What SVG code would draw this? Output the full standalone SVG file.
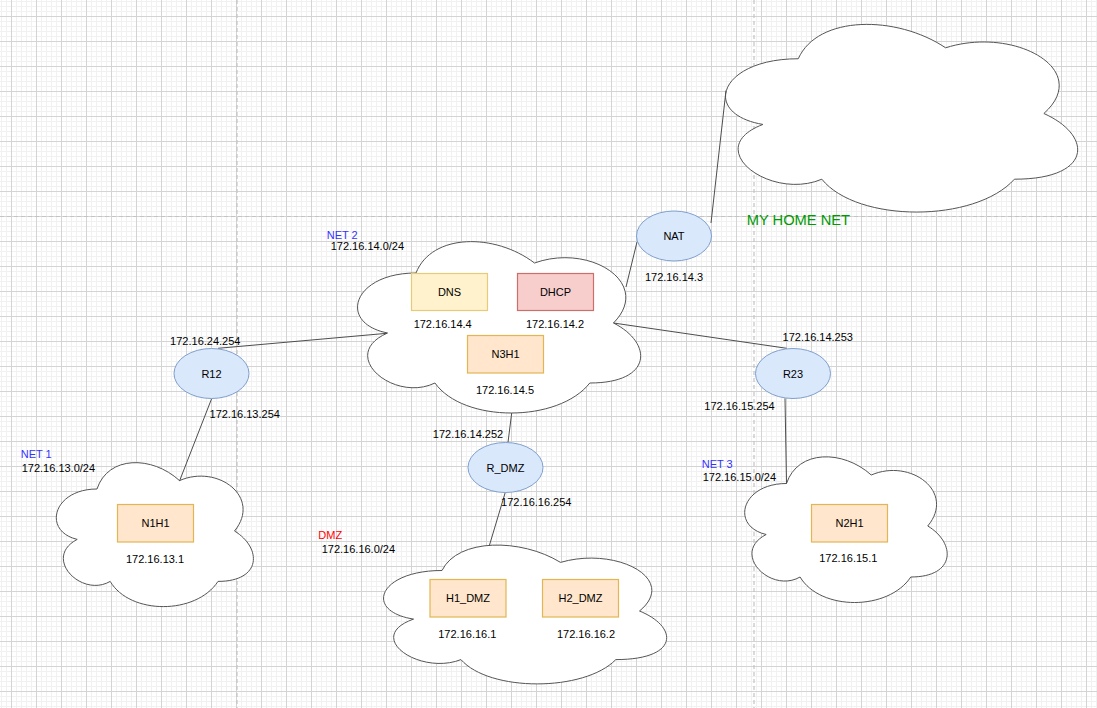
<svg xmlns="http://www.w3.org/2000/svg" width="1097" height="708" viewBox="0 0 1097 708">
<style>
text{font-family:"Liberation Sans",Arial,Helvetica,sans-serif;font-size:11px;fill:#000}
.c{text-anchor:middle}
.cloud{fill:#fff;stroke:#555;stroke-width:1}
.router{fill:#dae8fc;stroke:#7f9fcc;stroke-width:1}
.host{fill:#ffe6cc;stroke:#e2b652;stroke-width:1.2}
.dns{fill:#fff2cc;stroke:#e6cb7a;stroke-width:1.2}
.dhcp{fill:#f8cecc;stroke:#c9706c;stroke-width:1.2}
.net{fill:#3333ff}
.wire{stroke:#4d4d4d;stroke-width:1;fill:none}
.dash{stroke:#c4c4c4;stroke-width:1.2;stroke-dasharray:4 3}
</style>
<defs>
<pattern id="grid" patternUnits="userSpaceOnUse" x="11" y="16" width="25" height="25">
<path d="M5.5,0V25M10.5,0V25M15.5,0V25M20.5,0V25M0,5.5H25M0,10.5H25M0,15.5H25M0,20.5H25" stroke="#f1f1f1" stroke-width="1" fill="none"/>
<path d="M0.5,0V25M0,0.5H25" stroke="#d4d4d4" stroke-width="1" fill="none"/>
</pattern>
</defs>
<rect width="1097" height="708" fill="#fff"/>
<rect width="1097" height="708" fill="url(#grid)"/>
<g id="guides">
<line class="dash" x1="237" y1="0" x2="237" y2="708"/>
<line class="dash" x1="754" y1="0" x2="754" y2="708"/>
<line class="dash" x1="0" y1="216.5" x2="1097" y2="216.5"/>
</g>
<g id="cloud-home">
<path class="cloud" d="M798.25,58.75 C719.65,58.75 700,113.5 762.88,124.45 C700,148.54 770.74,201.1 821.83,179.2 C857.2,223 975.1,223 1014.4,179.2 C1093,179.2 1093,135.4 1043.875,113.5 C1093,69.7 1014.4,25.9 945.625,47.8 C896.5,14.95 817.9,14.95 798.25,58.75 Z"/>
<text x="746.7" y="224.6" style="font-size:14.7px;fill:#009900">MY HOME NET</text>
</g>
<g id="cloud-net2">
<path class="cloud" d="M416,273 C352.8,273 337,323 387.56,333 C337,355 393.88,403 434.96,383 C463.4,423 558.2,423 589.8,383 C653,383 653,343 613.5,323 C653,283 589.8,243 534.5,263 C495,233 431.8,233 416,273 Z"/>
<text class="net" x="326.7" y="239">NET 2</text>
<text x="330.7" y="250">172.16.14.0/24</text>
</g>
<g id="cloud-net1">
<path class="cloud" d="M97,489 C53,489 42,531 77.2,539.4 C42,557.88 81.6,598.2 110.2,581.4 C130,615 196,615 218,581.4 C262,581.4 262,547.8 234.5,531 C262,497.4 218,463.8 179.5,480.6 C152,455.4 108,455.4 97,489 Z"/>
<text class="net" x="20.7" y="458">NET 1</text>
<text x="21.7" y="472.3">172.16.13.0/24</text>
</g>
<g id="cloud-net3">
<path class="cloud" d="M786.5,483.5 C741.3,483.5 730,526 766.16,534.5 C730,553.2 770.68,594 800.06,577 C820.4,611 888.2,611 910.8,577 C956,577 956,543 927.75,526 C956,492 910.8,458 871.25,475 C843,449.5 797.8,449.5 786.5,483.5 Z"/>
<text class="net" x="701.7" y="468">NET 3</text>
<text x="702.7" y="481.3">172.16.15.0/24</text>
</g>
<g id="cloud-dmz">
<path class="cloud" d="M442,570.5 C378.8,570.5 363,611 413.56,619.1 C363,636.92 419.88,675.8 460.96,659.6 C489.4,692 584.2,692 615.8,659.6 C679,659.6 679,627.2 639.5,611 C679,578.6 615.8,546.2 560.5,562.4 C521,538.1 457.8,538.1 442,570.5 Z"/>
<text x="318.3" y="539.3" style="fill:#ff0000">DMZ</text>
<text x="321.7" y="553">172.16.16.0/24</text>
</g>
<g id="connectors">
<line class="wire" x1="218" y1="348.3" x2="387" y2="333.3"/>
<line class="wire" x1="211.7" y1="398.5" x2="179.5" y2="481"/>
<line class="wire" x1="511.7" y1="413" x2="508" y2="442.3"/>
<line class="wire" x1="505.3" y1="492.3" x2="489.3" y2="545.7"/>
<line class="wire" x1="613.5" y1="323" x2="786.7" y2="348.3"/>
<line class="wire" x1="785" y1="398.3" x2="786.5" y2="483.5"/>
<line class="wire" x1="637" y1="242" x2="626" y2="287"/>
<line class="wire" x1="711" y1="223" x2="726" y2="90.5"/>
</g>
<g id="node-dns">
<rect class="dns" x="411.5" y="273.5" width="76" height="37"/>
<text class="c" x="449.5" y="296">DNS</text>
<text class="c" x="442.7" y="328.3">172.16.14.4</text>
</g>
<g id="node-dhcp">
<rect class="dhcp" x="517.5" y="273.5" width="76" height="37"/>
<text class="c" x="555.5" y="296">DHCP</text>
<text class="c" x="555" y="328.3">172.16.14.2</text>
</g>
<g id="node-n3h1">
<rect class="host" x="467.5" y="335.5" width="76" height="37.5"/>
<text class="c" x="505.5" y="358.3">N3H1</text>
<text class="c" x="505" y="394.3">172.16.14.5</text>
</g>
<g id="node-nat">
<ellipse class="router" cx="674" cy="236" rx="37.5" ry="25"/>
<text class="c" x="674" y="240">NAT</text>
<text class="c" x="674" y="280.7">172.16.14.3</text>
</g>
<g id="node-r12">
<ellipse class="router" cx="211.5" cy="373.5" rx="37.5" ry="25"/>
<text class="c" x="211.5" y="377.5">R12</text>
<text class="c" x="205.3" y="344.7">172.16.24.254</text>
<text class="c" x="244.7" y="418.3">172.16.13.254</text>
</g>
<g id="node-r23">
<ellipse class="router" cx="793" cy="373.5" rx="37.5" ry="25"/>
<text class="c" x="793" y="377.5">R23</text>
<text class="c" x="817.8" y="341.3">172.16.14.253</text>
<text class="c" x="739.5" y="409.7">172.16.15.254</text>
</g>
<g id="node-rdmz">
<ellipse class="router" cx="505.5" cy="467.5" rx="37.5" ry="25"/>
<text class="c" x="505.5" y="471.5">R_DMZ</text>
<text class="c" x="468" y="438">172.16.14.252</text>
<text class="c" x="536.3" y="506">172.16.16.254</text>
</g>
<g id="node-n1h1">
<rect class="host" x="117.5" y="504.5" width="76" height="37.5"/>
<text class="c" x="155.5" y="527.3">N1H1</text>
<text class="c" x="155" y="563.3">172.16.13.1</text>
</g>
<g id="node-n2h1">
<rect class="host" x="811.5" y="504.5" width="76" height="37.5"/>
<text class="c" x="849.5" y="527.3">N2H1</text>
<text class="c" x="848.3" y="562.3">172.16.15.1</text>
</g>
<g id="node-h1dmz">
<rect class="host" x="430" y="579.5" width="76" height="37.5"/>
<text class="c" x="468" y="602.3">H1_DMZ</text>
<text class="c" x="467.3" y="638">172.16.16.1</text>
</g>
<g id="node-h2dmz">
<rect class="host" x="542.5" y="579.5" width="76" height="37.5"/>
<text class="c" x="580.5" y="602.3">H2_DMZ</text>
<text class="c" x="586" y="638">172.16.16.2</text>
</g>
</svg>
